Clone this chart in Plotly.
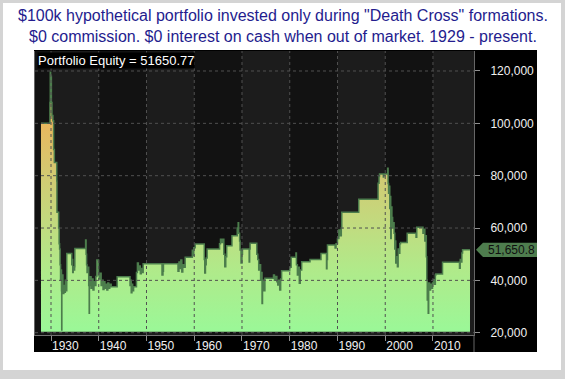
import plotly.graph_objects as go

# ---------------- data ----------------
TITLE_LINES = [
    '$100k hypothetical portfolio invested only during "Death Cross" formations.',
    '$0 commission. $0 interest on cash when out of market. 1929 - present.',
]
LABEL_TEXT = "Portfolio Equity = 51650.77"
FINAL_EQUITY = 51650.77
FINAL_LABEL = "51,650.8"

YEARS = [
    1927.90, 1929.70, 1929.78, 1929.85, 1929.92, 1930.00, 1930.08, 1930.20, 1930.40, 1930.55,
    1930.70, 1931.10, 1931.20, 1931.25, 1931.50, 1931.60, 1931.70, 1931.80, 1931.90, 1932.00,
    1932.10, 1932.20, 1932.24, 1932.28, 1932.40, 1932.50, 1932.70, 1932.85, 1933.00, 1933.15,
    1933.30, 1934.30, 1934.35, 1934.45, 1934.55, 1934.65, 1934.80, 1934.95, 1935.00, 1937.10,
    1937.25, 1937.35, 1937.45, 1937.55, 1937.70, 1937.90, 1938.00, 1938.05, 1938.20, 1938.40,
    1938.60, 1938.80, 1939.00, 1939.20, 1939.40, 1939.60, 1939.90, 1939.95, 1940.10, 1940.30,
    1940.50, 1940.70, 1940.90, 1941.10, 1941.30, 1941.50, 1941.70, 1941.90, 1942.10, 1942.30,
    1942.60, 1943.80, 1943.85, 1946.50, 1946.55, 1946.70, 1946.80, 1946.95, 1947.10, 1947.30,
    1947.80, 1947.90, 1948.10, 1948.30, 1948.50, 1948.70, 1948.90, 1949.10, 1949.30, 1953.20,
    1953.25, 1953.45, 1953.55, 1956.50, 1956.60, 1956.80, 1957.00, 1957.20, 1957.40, 1957.60,
    1957.80, 1958.10, 1959.50, 1959.60, 1959.75, 1959.90, 1960.20, 1962.00, 1962.10, 1962.20,
    1962.35, 1962.50, 1962.70, 1965.20, 1965.30, 1965.50, 1965.80, 1966.10, 1966.20, 1966.40,
    1966.60, 1966.80, 1967.80, 1967.90, 1968.90, 1969.00, 1969.20, 1969.30, 1969.50, 1969.60,
    1969.80, 1970.00, 1970.10, 1971.40, 1971.50, 1971.60, 1971.70, 1973.00, 1973.10, 1973.30,
    1973.50, 1973.70, 1973.90, 1974.10, 1974.20, 1974.30, 1974.50, 1974.80, 1976.50, 1976.60,
    1976.80, 1977.00, 1977.30, 1977.50, 1977.70, 1977.90, 1978.10, 1978.30, 1979.90, 1980.00,
    1980.30, 1981.10, 1981.30, 1981.40, 1981.60, 1981.80, 1982.00, 1982.20, 1982.50, 1984.20,
    1984.25, 1986.50, 1986.55, 1987.60, 1987.70, 1987.80, 1987.90, 1989.30, 1989.50, 1989.70,
    1990.00, 1990.30, 1990.60, 1990.80, 1990.90, 1994.40, 1994.45, 1998.40, 1998.50, 1998.70,
    1998.80, 1999.50, 1999.60, 1999.70, 2000.40, 2000.50, 2000.60, 2000.70, 2000.80, 2000.95,
    2001.05, 2001.15, 2001.25, 2001.40, 2001.55, 2001.70, 2001.85, 2002.00, 2002.10, 2002.20,
    2002.40, 2002.55, 2002.70, 2002.90, 2003.05, 2003.20, 2004.50, 2004.60, 2006.40, 2006.45,
    2006.60, 2007.80, 2007.90, 2008.10, 2008.30, 2008.45, 2008.60, 2008.70, 2008.80, 2008.90,
    2009.00, 2009.10, 2009.30, 2009.50, 2009.70, 2009.90, 2010.10, 2010.30, 2010.50, 2010.60,
    2011.80, 2012.00, 2015.50, 2015.55, 2015.70, 2015.90, 2016.05, 2016.20, 2017.75,
]
EQUITY = [
    100000, 100000, 108000, 119500, 112000, 118000, 108000, 103000, 101000, 90000,
    85000, 85000, 78000, 66000, 66000, 60000, 54000, 52000, 46000, 40000,
    44000, 36000, 21000, 36000, 42000, 35000, 38000, 35500, 40000, 36000,
    50300, 50300, 46000, 48000, 43000, 45200, 44000, 45200, 52200, 52200,
    55400, 50000, 46000, 43000, 45000, 38000, 27400, 38000, 41400, 37000,
    40500, 36300, 39500, 38000, 41500, 47800, 47800, 42000, 40500, 42700,
    38000, 40000, 36500, 39500, 37000, 38500, 36300, 39000, 37000, 38500,
    37600, 37600, 41400, 41400, 38000, 40000, 35300, 38500, 36000, 37600,
    37600, 43000, 46600, 44000, 45500, 42500, 44500, 43000, 46300, 46300,
    42000, 43500, 46300, 46300, 43500, 47000, 44500, 47800, 43200, 46000,
    45000, 48800, 48800, 51500, 49500, 52500, 53900, 53900, 48000, 42800,
    46000, 48500, 52000, 52000, 54000, 55700, 54500, 55700, 50000, 45200,
    49000, 53200, 53200, 57000, 57000, 60000, 62000, 58000, 55000, 51600,
    46600, 50000, 52000, 52000, 47000, 52000, 54200, 54200, 50000, 48000,
    44000, 46000, 40000, 43000, 31200, 40000, 36000, 40800, 40800, 42000,
    40000, 41500, 39500, 38200, 40000, 36300, 40500, 43700, 43700, 45000,
    48800, 48800, 50500, 46000, 42000, 45000, 38900, 44000, 47100, 47100,
    48000, 48000, 50300, 50300, 44400, 48000, 53500, 53500, 52400, 54000,
    56000, 59200, 57000, 60000, 66000, 66000, 71000, 71000, 77100, 79700,
    80600, 80600, 79500, 80600, 80600, 82800, 77000, 73300, 76000, 67500,
    72000, 56000, 68000, 64000, 60000, 62000, 58000, 52000, 55000, 46600,
    49000, 45200, 52000, 50400, 54000, 54500, 54500, 58000, 58000, 56500,
    60300, 60300, 58000, 59500, 55000, 57000, 49000, 40000, 32500, 38000,
    27400, 39000, 36300, 38500, 37000, 39000, 40200, 38500, 42000, 42400,
    42400, 46900, 46900, 44600, 48000, 47000, 50500, 51650.77, 51650.77,
]

Y_TICKS = [20000, 40000, 60000, 80000, 100000, 120000]
Y_TICK_LABELS = ["20,000", "40,000", "60,000", "80,000", "100,000", "120,000"]
X_TICKS = [1930, 1940, 1950, 1960, 1970, 1980, 1990, 2000, 2010]
X_TICK_LABELS = ["1930", "1940", "1950", "1960", "1970", "1980", "1990", "2000", "2010"]
LIGHT_DECADES = [1930, 1950, 1970, 1990, 2010]

# ---------------- layout geometry / style ----------------
W, H = 565, 379
PL, PR, PT, PB = 35, 474, 51, 335          # plot area in pixels
X_RANGE = [1926.65, 2018.59]
Y_RANGE = [19120, 127640]
FILL_BASE = 20400
FONT = "Arial, Liberation Sans, sans-serif"
TXT = "#f0f0f0"
GRID = "#505050"
LINE_GREEN = "#4c7d4c"


def px_x(px):
    return (px - PL) / (PR - PL)


def px_y(py):
    return (PB - py) / (PB - PT)


fig = go.Figure()
fig.add_trace(go.Scatter(
    x=YEARS, y=[FILL_BASE] * len(YEARS), mode="lines",
    line=dict(width=0, color="rgba(0,0,0,0)"), hoverinfo="skip", showlegend=False,
))
fig.add_trace(go.Scatter(
    x=YEARS, y=EQUITY, mode="lines", line=dict(color=LINE_GREEN, width=1.5, shape="hv"),
    fill="tonexty",
    fillgradient=dict(
        type="vertical", start=20000, stop=100000,
        colorscale=[[0.0, "#9af898"], [0.3, "#b0ea8a"], [0.5, "#c0dc80"],
                    [0.75, "#d2ca72"], [1.0, "#e9b75e"]],
    ),
    hoverinfo="skip", showlegend=False,
))

shapes = []
# outer frame: grey page, white card, black chart panel, dark plot panel
shapes.append(dict(type="rect", xref="paper", yref="paper", layer="below",
                   x0=px_x(3), x1=px_x(561), y0=px_y(370), y1=px_y(3),
                   fillcolor="white", line=dict(width=0)))
shapes.append(dict(type="rect", xref="paper", yref="paper", layer="below",
                   x0=px_x(34), x1=px_x(537), y0=px_y(352), y1=px_y(50),
                   fillcolor="black", line=dict(width=0)))
shapes.append(dict(type="rect", xref="paper", yref="paper", layer="below",
                   x0=0, x1=1, y0=0, y1=1,
                   fillcolor="#121212", line=dict(width=0)))
# alternating decade bands
for d in LIGHT_DECADES:
    shapes.append(dict(type="rect", xref="x", yref="paper", layer="below",
                       x0=d, x1=d + 10, y0=0, y1=1,
                       fillcolor="#1c1c1c", line=dict(width=0)))
# dotted grid drawn above the area
for t in X_TICKS:
    shapes.append(dict(type="line", xref="x", yref="paper", layer="above",
                       x0=t, x1=t, y0=0, y1=1,
                       line=dict(color=GRID, width=1, dash="dot")))
for t in Y_TICKS:
    shapes.append(dict(type="line", xref="paper", yref="y", layer="above",
                       x0=0, x1=1, y0=t, y1=t,
                       line=dict(color=GRID, width=1, dash="dot")))
# right separator continuing through the x-label strip
shapes.append(dict(type="line", xref="paper", yref="paper", layer="above",
                   x0=1, x1=1, y0=px_y(352), y1=0,
                   line=dict(color="#666666", width=1)))
# last-value tag
shapes.append(dict(type="path", xref="paper", yref="y", xsizemode="pixel", ysizemode="pixel",
                   xanchor=1, yanchor=FINAL_EQUITY,
                   path="M 2,0 L 9,7.2 L 63,7.2 L 63,-7.2 L 9,-7.2 Z",
                   fillcolor="#4e7d4e", line=dict(width=0), layer="above"))

annotations = [
    dict(text="<br>".join(TITLE_LINES), xref="paper", yref="paper",
         x=px_x(W / 2), y=px_y(6), xanchor="center", yanchor="top", align="center",
         showarrow=False, borderpad=0,
         font=dict(family=FONT, size=16, color="#241c8e")),
    dict(text=LABEL_TEXT, xref="paper", yref="paper", x=px_x(37), y=px_y(52),
         xanchor="left", yanchor="top", showarrow=False, bgcolor="black",
         borderpad=0, font=dict(family=FONT, size=13, color="white")),
    dict(text=FINAL_LABEL, xref="paper", yref="y", x=1, y=FINAL_EQUITY,
         xanchor="left", yanchor="middle", xshift=12, showarrow=False,
         font=dict(family=FONT, size=12, color="#101010")),
]

fig.update_layout(
    width=W, height=H,
    margin=dict(l=PL, r=W - PR, t=PT, b=H - PB, pad=0),
    paper_bgcolor="#d4d4d4", plot_bgcolor="#121212",
    font=dict(family=FONT, size=12, color=TXT),
    shapes=shapes, annotations=annotations, showlegend=False, hovermode=False,
    xaxis=dict(range=X_RANGE, tickvals=X_TICKS, ticktext=X_TICK_LABELS,
               showgrid=False, zeroline=False, showline=True, linecolor="#707070",
               ticks="outside", ticklen=5, tickcolor="#909090",
               ticklabelposition="outside right",
               tickfont=dict(family=FONT, size=12, color=TXT)),
    yaxis=dict(range=Y_RANGE, tickvals=Y_TICKS, ticktext=Y_TICK_LABELS, side="right",
               showgrid=False, zeroline=False, showline=True, linecolor="#666666",
               mirror=True, ticks="outside", ticklen=5, tickcolor="#909090",
               ticklabelstandoff=8,
               tickfont=dict(family=FONT, size=12, color=TXT)),
)

fig.write_html(
    "out.html",
    config={"displayModeBar": False},
    post_script="document.body.style.margin='0';document.body.style.overflow='hidden';",
)
